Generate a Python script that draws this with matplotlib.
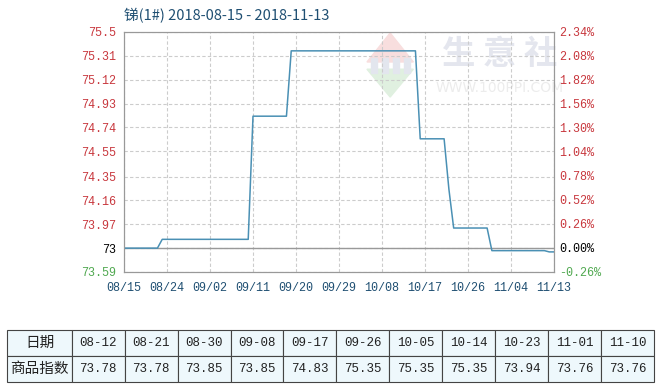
import matplotlib.pyplot as plt
import matplotlib.dates as mdates
from matplotlib.patches import Polygon, Rectangle
import pandas as pd

# 价格走势
dates = ['2018-08-15', '2018-08-22', '2018-08-23', '2018-09-10', '2018-09-11',
         '2018-09-18', '2018-09-19', '2018-10-15', '2018-10-16', '2018-10-21',
         '2018-10-22', '2018-10-23', '2018-10-30', '2018-10-31', '2018-11-11',
         '2018-11-12', '2018-11-13']
values = [73.78, 73.78, 73.85, 73.85, 74.83, 74.83, 75.35, 75.35, 74.65, 74.65,
          74.25, 73.94, 73.94, 73.76, 73.76, 73.75, 73.75]

base_value = 73.78
left_ticks = [73.59, 73.78, 73.97, 74.16, 74.35, 74.55, 74.74, 74.93, 75.12, 75.31, 75.5]
left_labels = ['73.59', '73', '73.97', '74.16', '74.35', '74.55', '74.74',
               '74.93', '75.12', '75.31', '75.5']
right_ticks = [-0.26, 0.0, 0.26, 0.52, 0.78, 1.04, 1.30, 1.56, 1.82, 2.08, 2.34]
x_ticks = ['2018-08-15', '2018-08-24', '2018-09-02', '2018-09-11', '2018-09-20',
           '2018-09-29', '2018-10-08', '2018-10-17', '2018-10-26', '2018-11-04',
           '2018-11-13']

# 表格数据
table_dates = ['08-12', '08-21', '08-30', '09-08', '09-17', '09-26', '10-05',
               '10-14', '10-23', '11-01', '11-10']
table_values = ['73.78', '73.78', '73.85', '73.85', '74.83', '75.35', '75.35',
                '75.35', '73.94', '73.76', '73.76']

cjk = ['Noto Sans CJK SC', 'DejaVu Sans']
mono = 'Liberation Mono'
red = '#c8373d'
green = '#4fa84f'
blue_txt = '#1f4f72'

fig = plt.figure(figsize=(6.61, 3.90), dpi=100)
ax = fig.add_axes([124 / 661, 1 - 272 / 390, 430 / 661, 240 / 390])

x = pd.to_datetime(dates)
ax.axhline(base_value, color='#999999', lw=1, zorder=2)
ax.plot(x, values, color='#4a90b4', lw=1.1, zorder=3)

ax.set_xlim(pd.Timestamp('2018-08-15'), pd.Timestamp('2018-11-13'))
ax.set_ylim(73.59, 75.5)
ax.set_xticks(pd.to_datetime(x_ticks))
ax.xaxis.set_major_formatter(mdates.DateFormatter('%m/%d'))
ax.set_yticks(left_ticks)
ax.set_yticklabels(left_labels)
ax.grid(True, color='#cccccc', ls=(0, (3, 2)), lw=0.8, zorder=1)
ax.tick_params(axis='both', length=0, labelsize=8.5)
ax.tick_params(axis='x', pad=7, labelcolor=blue_txt)
ax.tick_params(axis='y', pad=6)
for lab in ax.get_xticklabels():
    lab.set_fontfamily(mono)
for i, lab in enumerate(ax.get_yticklabels()):
    lab.set_fontfamily(mono)
    lab.set_color(green if i == 0 else ('black' if i == 1 else red))
for s in ax.spines.values():
    s.set_color('#999999')

ax2 = ax.twinx()
ax2.set_ylim(-0.26, 2.34)
ax2.set_yticks(right_ticks)
ax2.set_yticklabels(['%.2f%%' % v for v in right_ticks])
ax2.tick_params(axis='y', length=0, labelsize=8.5, pad=4)
for i, lab in enumerate(ax2.get_yticklabels()):
    lab.set_fontfamily(mono)
    lab.set_color(green if i == 0 else ('black' if i == 1 else red))
for s in ax2.spines.values():
    s.set_color('#999999')

# 水印
ax.add_patch(Polygon([(0.619, 0.996), (0.565, 0.875), (0.673, 0.875)],
                     closed=True, transform=ax.transAxes, color='#f8dede', zorder=0))
ax.add_patch(Polygon([(0.565, 0.845), (0.673, 0.845), (0.619, 0.729)],
                     closed=True, transform=ax.transAxes, color='#e0f0e0', zorder=0))
for bx in [0.575, 0.600, 0.625, 0.650]:
    ax.add_patch(Rectangle((bx, 0.83), 0.014, 0.06, transform=ax.transAxes,
                           color='#e3e6ee', zorder=0))
ax.text(0.874, 0.905, '生 意 社', transform=ax.transAxes, ha='center', va='center',
        fontsize=24, color='#e4e6ee', family=cjk, fontweight='bold', zorder=0)
ax.text(0.874, 0.767, 'WWW.100PPI.COM', transform=ax.transAxes, ha='center',
        va='center', fontsize=10, color='#ececec', zorder=0)

fig.text(124 / 661, 1 - 16 / 390, '锑(1#) 2018-08-15 - 2018-11-13', ha='left',
         va='center', fontsize=10.5, color=blue_txt, family=cjk)

# 底部表格
tab_ax = fig.add_axes([7.3 / 661, 1 - 382 / 390, 646.7 / 661, 52 / 390])
tab_ax.axis('off')
cells = [['日期'] + table_dates, ['商品指数'] + table_values]
first_w = 64.4 / 646.7
col_w = (1 - first_w) / len(table_dates)
tbl = tab_ax.table(cellText=cells, colWidths=[first_w] + [col_w] * len(table_dates),
                   bbox=[0, 0, 1, 1], cellLoc='center')
tbl.auto_set_font_size(False)
for (r, c), cell in tbl.get_celld().items():
    cell.set_facecolor('#eef8fc')
    cell.set_edgecolor('#444444')
    cell.set_linewidth(0.8)
    t = cell.get_text()
    t.set_color('#222222')
    if c == 0:
        t.set_fontsize(10.5)
        t.set_fontfamily(cjk)
    else:
        t.set_fontsize(9)
        t.set_fontfamily(mono)

fig.savefig('out.png', dpi=100)
